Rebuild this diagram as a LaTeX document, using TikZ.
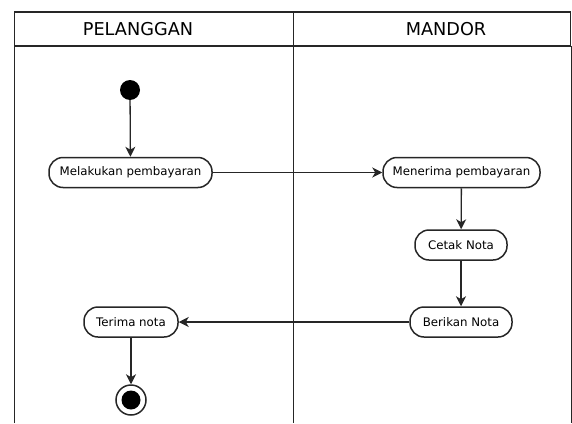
\documentclass[tikz,border=0pt]{standalone}
\usepackage{fontspec}
\setmainfont{DejaVu Sans}
\usetikzlibrary{arrows.meta}
\begin{document}
\begin{tikzpicture}[x=1pt,y=-1pt,
  lane/.style={line width=1.2pt,draw=black!85},
  activity/.style={draw=black!85,line width=1.5pt,rounded corners=14pt,
    minimum height=30pt,inner xsep=9pt,inner ysep=0pt,fill=white,
    font=\fontsize{11.8}{14}\selectfont},
  flow/.style={line width=1.3pt,draw=black!85,
    -{Stealth[length=10pt,width=10pt,inset=3pt]}},
  header/.style={font=\fontsize{17.7}{20}\selectfont,inner sep=0pt}]
\useasboundingbox (0,0) rectangle (572,423);

% swimlane frame
\draw[lane] (14.5,423) -- (14.5,12) -- (570.5,12) -- (570.5,46);
\draw[lane] (14.5,46) -- (570.5,46);
\draw[lane] (293.3,12) -- (293.3,423);
\draw[lane] (571.5,46) -- (571.5,423);
\node[header] (h1) at (138,29.3) {PELANGGAN};
\node[header] (h2) at (446,29.3) {MANDOR};

% start node
\node[circle,fill=black,minimum size=20pt,inner sep=0pt] (start) at (130,90) {};

% activities
\node[activity,minimum width=163pt] (bayar) at (130.5,172.5) {Melakukan pembayaran};
\node[activity,minimum width=157pt] (terima) at (461.5,172.5) {Menerima pembayaran};
\node[activity,minimum width=92pt] (cetak) at (461,245) {Cetak Nota};
\node[activity,minimum width=102pt] (berikan) at (461,322) {Berikan Nota};
\node[activity,minimum width=94pt] (nota) at (131,322) {Terima nota};

% end node
\node[circle,draw=black!85,line width=1.5pt,minimum size=30pt,inner sep=0pt,fill=white] (end) at (131,400) {};
\node[circle,fill=black,minimum size=19pt,inner sep=0pt] (endin) at (end.center) {};

% control flows
\draw[flow] (start) -- (bayar);
\draw[flow] (bayar.east) -- (terima.west);
\draw[flow] (terima) -- (cetak);
\draw[flow] (cetak) -- (berikan);
\draw[flow] (berikan.west) -- (nota.east);
\draw[flow] (nota) -- (end);
\end{tikzpicture}
\end{document}
